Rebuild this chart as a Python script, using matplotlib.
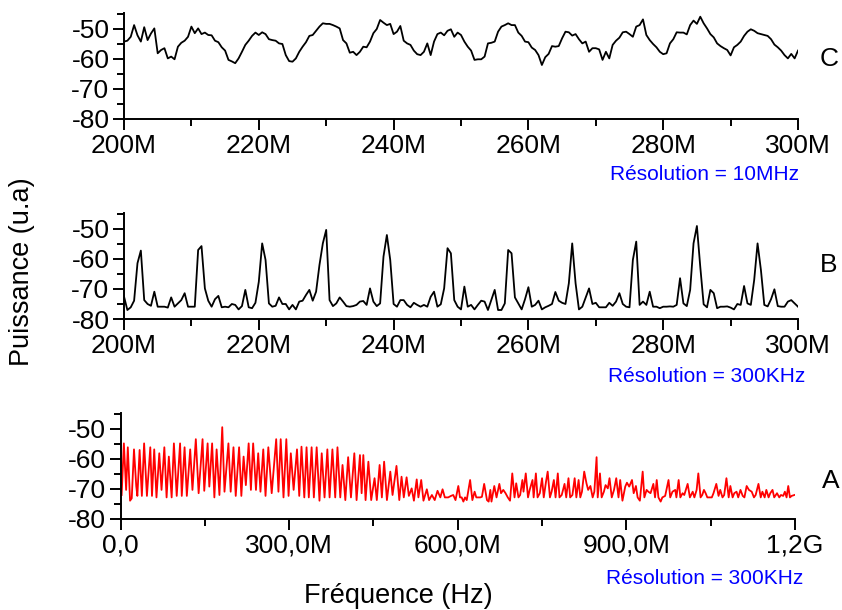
import numpy as np
import matplotlib
matplotlib.use("Agg")
import matplotlib.pyplot as plt
from matplotlib.ticker import MultipleLocator

plt.rcParams['font.family'] = ['Liberation Sans', 'DejaVu Sans']

# ---- donnees (frequence en MHz, puissance en u.a) ----
f_start_cb, f_stop_cb = 200, 300

# C : resolution 10MHz, pas de 0.5 MHz
level_c = [
    -54.2, -53.9, -52.6, -48.7, -52.1, -54.2, -49.4, -53.7, -51.5, -49.8,
    -58.1, -57.0, -56.4, -59.8, -59.2, -60.1, -55.9, -54.6, -53.9, -52.6,
    -49.2, -51.4, -49.8, -51.7, -51.2, -52.0, -52.1, -53.9, -54.4, -56.1,
    -57.2, -60.3, -60.8, -61.4, -59.8, -57.6, -55.3, -53.9, -52.3, -51.2,
    -52.0, -51.1, -51.7, -53.4, -53.7, -53.9, -54.8, -55.0, -58.7, -60.7,
    -60.9, -59.8, -57.6, -55.9, -54.4, -52.3, -52.0, -50.6, -49.2, -48.1,
    -48.3, -48.3, -48.7, -49.2, -49.8, -53.7, -54.8, -57.9, -57.6, -58.7,
    -57.6, -55.9, -56.1, -54.2, -51.4, -50.0, -47.0, -47.9, -48.7, -48.3,
    -51.7, -50.9, -49.0, -53.9, -54.8, -55.3, -57.2, -58.4, -58.7, -57.6,
    -54.8, -58.7, -54.2, -51.7, -51.2, -52.1, -50.6, -50.1, -52.6, -51.2,
    -52.0,
    -54.2, -55.9, -57.2, -60.3, -60.1, -60.1, -59.2, -54.8, -54.6, -54.2,
    -50.9, -49.2, -48.7, -48.1, -48.7, -48.7, -51.2, -52.3, -54.2, -54.4,
    -56.2, -57.0, -58.7, -62.0, -59.4, -58.3, -55.7, -55.9, -55.7, -53.1,
    -50.9, -51.1, -52.2, -51.7, -53.4, -54.8, -54.2, -57.6, -56.4, -56.4,
    -56.8, -60.3, -57.6, -59.8, -55.3, -53.9, -52.9, -51.1, -50.9, -51.7,
    -52.6, -49.2, -48.7, -46.8, -52.0, -53.7, -55.0, -56.1, -57.6, -58.4,
    -58.1, -54.8, -53.4, -51.1, -51.2, -51.2, -51.8, -48.7, -47.2, -48.3,
    -45.9, -48.1, -49.8, -51.7, -52.8, -54.8, -55.7, -56.4, -57.0, -58.8,
    -56.1, -55.3, -54.2, -52.3, -50.9, -50.1, -50.6, -51.4, -51.7, -52.0,
    -52.3, -53.4, -55.2, -56.1, -57.2, -58.7, -59.8, -58.3, -59.8, -57.2,
]

# B : resolution 300KHz, pas de 0.5 MHz
level_b = [
    -72.5, -77.0, -76.1, -73.9, -61.4, -57.2, -73.7, -75.0, -75.6, -70.9,
    -75.9, -75.9, -75.9, -76.2, -72.8, -75.9, -74.8, -73.7, -71.4, -75.9,
    -75.9, -75.9, -57.0, -55.7, -69.8, -73.9, -75.9, -73.4, -72.3, -76.1,
    -75.9, -76.1, -75.0, -75.3, -76.8, -75.7, -70.3, -76.1, -76.4, -74.6,
    -67.6, -54.8, -60.3, -74.8, -75.9, -75.6, -72.8, -75.0, -75.0, -76.8,
    -75.3, -76.8, -74.2, -73.9, -72.0, -70.3, -73.9, -70.9, -62.0, -54.8,
    -50.3, -73.7, -75.7, -74.8, -72.8, -74.2, -75.7, -75.9, -75.7, -75.3,
    -74.2, -74.0, -75.3, -69.8, -74.2, -75.7, -74.8, -59.2, -52.0, -60.3,
    -75.0, -75.9, -73.7, -73.7, -75.3, -76.1, -74.6, -75.3, -75.9, -75.3,
    -75.9, -72.6, -70.9, -75.9, -75.1, -69.8, -56.4, -58.1, -73.7, -75.9,
    -76.8,
    -69.2, -75.9, -75.3, -76.8, -75.3, -73.9, -74.2, -77.0, -73.7, -70.3,
    -77.0, -77.0, -74.8, -57.0, -58.1, -72.8, -74.8, -76.8, -73.4, -69.4,
    -75.9, -75.3, -73.9, -76.8, -76.1, -75.6, -75.0, -71.0, -73.9, -74.6,
    -75.0, -68.1, -54.8, -68.1, -76.8, -75.9, -72.8, -69.8, -75.0, -74.6,
    -76.1, -76.1, -76.1, -74.6, -75.6, -74.2, -71.4, -75.0, -75.9, -76.1,
    -60.3, -54.2, -75.3, -74.2, -75.3, -70.9, -75.9, -75.9, -76.4, -75.9,
    -75.9, -75.8, -75.9, -75.3, -66.4, -74.8, -75.7, -70.3, -54.8, -49.0,
    -62.6, -75.1, -76.1, -70.3, -71.4, -76.4, -75.9, -75.9, -75.8, -76.2,
    -76.8, -75.0, -75.3, -69.0, -74.8, -75.3, -67.0, -54.8, -63.7, -75.3,
    -75.8, -73.4, -70.1, -75.7, -75.9, -75.9, -74.2, -73.7, -74.8, -75.9,
]

# A : 0 - 1.2 GHz, sommets de la courbe
freq_a = [
    2, 6, 10, 13, 17, 20, 24, 28, 30, 34, 38, 42, 47, 53, 56, 60, 64, 69, 73, 78,
    82, 86, 91, 95, 100, 106, 109, 114, 118, 124, 128, 134, 139, 146, 149, 155, 158, 163, 167, 171,
    176, 181, 185, 192, 196, 201, 205, 211, 215, 219, 223, 228, 232, 236, 241, 245, 249, 254, 258, 263,
    269, 277, 281, 285, 290, 295, 299, 303, 308, 314, 318, 322, 327, 331, 335, 340, 344, 349, 354, 358,
    363, 368, 372, 377, 382, 386, 391, 395, 400, 405, 410, 416, 420, 426, 429, 432, 436, 441, 446, 452,
    456, 461, 465, 469, 474, 480, 484, 491, 496, 500, 504, 509, 513, 518, 522, 527, 530, 535, 539, 545,
    549, 554, 559, 564, 569, 573, 577, 583, 588, 592, 596, 601, 604,
    607, 610, 613, 616, 622, 626, 630, 633, 640, 643, 647, 652, 655, 658, 660, 665, 669, 674, 677, 681,
    685, 689, 693, 697, 701, 704, 708, 711, 715, 717, 721, 725, 728, 733, 735, 739, 742, 746, 750, 753,
    757, 760, 764, 767, 771, 774, 778, 781, 785, 790, 793, 797, 800, 804, 808, 811, 815, 818, 821, 825,
    829, 832, 836, 840, 843, 847, 849, 853, 856, 860, 863, 867, 870, 874, 878, 882, 886, 889, 893, 898,
    901, 905, 910, 913, 917, 920, 924, 929, 932, 936, 939, 943, 948, 951, 954, 957, 961, 964, 969, 975,
    978, 982, 987, 989, 993, 996, 1000, 1003, 1009, 1013, 1018, 1021, 1025, 1028, 1032, 1035, 1038, 1041, 1044, 1048,
    1052, 1055, 1060, 1064, 1067, 1071, 1074, 1078, 1082, 1085, 1089, 1092, 1096, 1099, 1103, 1107, 1110, 1114, 1118, 1123,
    1127, 1130, 1135, 1139, 1142, 1146, 1149, 1153, 1156, 1160, 1163, 1168, 1172, 1175, 1179, 1182, 1185, 1188, 1191, 1194,
    1199,
]
level_a = [
    -72.0, -54.8, -70.3, -56.1, -73.9, -73.1, -56.8, -69.0, -72.3, -57.0,
    -72.3, -54.8, -72.3, -56.1, -72.3, -56.8, -72.8, -58.1, -70.3, -56.1,
    -72.8, -59.2, -72.8, -54.8, -72.3, -54.8, -72.3, -56.1, -72.3, -56.8,
    -70.3, -53.4, -71.4, -53.4, -70.6, -54.8, -69.2, -54.8, -72.8, -56.8,
    -72.0, -49.4, -70.9, -54.8, -70.9, -56.1, -72.3, -56.1, -72.3, -59.2,
    -68.7, -54.8, -70.3, -54.8, -70.3, -58.1, -70.9, -56.8, -72.3, -56.1,
    -71.4, -53.4, -70.9, -53.4, -72.8, -53.4, -72.3, -58.1, -70.3, -56.8,
    -72.3, -55.9, -72.8, -56.1, -72.8, -56.1, -72.8, -56.1, -73.9, -58.1,
    -72.8, -56.8, -72.8, -56.8, -72.8, -56.1, -72.8, -62.0, -73.7, -59.4,
    -72.8, -58.1, -73.7, -58.7, -71.4, -58.7, -73.7, -60.9, -73.7, -66.4,
    -73.7, -62.0, -72.8, -60.9, -73.7, -64.2, -72.0, -62.3, -73.7, -65.9,
    -72.8, -66.1, -72.3, -69.8, -73.9, -66.8, -72.8, -67.0, -73.9, -70.1,
    -73.7, -72.0, -73.7, -70.6, -72.8, -70.1, -72.8, -72.8, -72.3, -72.0,
    -73.7, -69.0, -72.8,
    -72.8, -74.2, -72.8, -73.7, -67.0, -73.7, -70.9, -72.8, -72.8, -72.6,
    -68.3, -73.7, -74.2, -70.3, -74.2, -69.0, -72.8, -68.3, -71.4, -70.3,
    -71.4, -72.8, -73.9, -64.8, -72.8, -68.1, -72.8, -72.0, -67.0, -70.9,
    -64.8, -72.8, -70.3, -67.0, -72.8, -64.8, -72.8, -71.4, -66.4, -72.8,
    -67.6, -64.2, -72.8, -70.9, -67.0, -72.8, -64.8, -72.8, -72.0, -68.3,
    -72.8, -66.4, -72.8, -72.0, -66.4, -72.8, -67.0, -72.8, -70.9, -64.2,
    -68.1, -70.3, -69.0, -72.8, -70.9, -59.4, -72.8, -64.8, -72.8, -70.9,
    -68.7, -69.8, -66.4, -72.8, -70.3, -66.4, -72.8, -67.0, -73.9, -69.2,
    -67.9, -69.2, -67.0, -71.4, -69.0, -72.8, -73.9, -64.2, -72.8, -70.3,
    -70.9, -71.4, -68.3, -72.8, -67.0, -72.8, -74.2, -72.8, -72.3, -67.0,
    -72.8, -70.9, -70.3, -72.8, -67.0, -72.8, -71.4, -72.0, -68.3, -72.8,
    -70.9, -72.8, -70.3, -64.8, -72.8, -72.0, -70.3, -71.4, -72.8, -72.8,
    -72.8, -71.4, -68.3, -72.3, -70.3, -72.8, -72.0, -66.4, -72.8, -69.0,
    -72.8, -71.4, -70.9, -72.8, -70.3, -72.3, -72.8, -69.0, -70.3, -70.9,
    -72.8, -72.0, -68.3, -72.8, -70.9, -72.8, -70.3, -72.8, -71.4, -70.3,
    -72.8, -71.4, -72.8, -72.0, -72.3, -70.9, -72.8, -69.0, -72.8, -72.3,
    -72.0,
]

ticks_cb = [200, 220, 240, 260, 280, 300]
ticklabels_cb = ['200M', '220M', '240M', '260M', '280M', '300M']
ticks_a = [0, 300, 600, 900, 1200]
ticklabels_a = ['0,0', '300,0M', '600,0M', '900,0M', '1,2G']
yticks = [-80, -70, -60, -50]
yticklabels = ['-80', '-70', '-60', '-50']

freq_cb = np.linspace(f_start_cb, f_stop_cb, len(level_c))

W, H = 842, 610
fig = plt.figure(figsize=(W / 100, H / 100), dpi=100)


def rect(left, top, right, bottom):
    # rectangle en pixels -> fraction de la figure
    return [left / W, 1 - bottom / H, (right - left) / W, (bottom - top) / H]


def style(ax, xlim, xticks, xlabels, xminor):
    ax.set_xlim(*xlim)
    ax.set_ylim(-80, -44.67)
    ax.set_xticks(xticks)
    ax.set_xticklabels(xlabels)
    ax.xaxis.set_minor_locator(MultipleLocator(xminor))
    ax.set_yticks(yticks)
    ax.set_yticklabels(yticklabels)
    ax.yaxis.set_minor_locator(MultipleLocator(5))
    ax.spines['top'].set_visible(False)
    ax.spines['right'].set_visible(False)
    for s in ('left', 'bottom'):
        ax.spines[s].set_linewidth(1.4)
    ax.tick_params(which='major', direction='out', length=8, width=1.4, labelsize=19, pad=2.5)
    ax.tick_params(which='minor', direction='out', length=5, width=1.4)
    ax.patch.set_visible(False)


ax_c = fig.add_axes(rect(124, 13, 798, 119))
ax_c.plot(freq_cb, level_c, color='black', lw=1.3)
style(ax_c, (200, 300), ticks_cb, ticklabels_cb, 10)

ax_b = fig.add_axes(rect(124, 213, 798, 319))
ax_b.plot(freq_cb, level_b, color='black', lw=1.3)
style(ax_b, (200, 300), ticks_cb, ticklabels_cb, 10)

ax_a = fig.add_axes(rect(120.5, 413, 795, 519))
ax_a.plot(freq_a, level_a, color='red', lw=1.3)
style(ax_a, (0, 1200), ticks_a, ticklabels_a, 150)

# textes
fig.text(22 / W, 1 - 272 / H, 'Puissance (u.a)', rotation=90, ha='center', va='center', fontsize=19.5)
fig.text(398 / W, 1 - 596 / H, 'Fréquence (Hz)', ha='center', va='center', fontsize=19.5)

fig.text(704 / W, 1 - 174 / H, 'Résolution = 10MHz', color='blue', ha='center', va='center', fontsize=15)
fig.text(707 / W, 1 - 377 / H, 'Résolution = 300KHz', color='blue', ha='center', va='center', fontsize=15)
fig.text(705 / W, 1 - 578 / H, 'Résolution = 300KHz', color='blue', ha='center', va='center', fontsize=15)

fig.text(829 / W, 1 - 59 / H, 'C', ha='center', va='center', fontsize=19)
fig.text(829 / W, 1 - 265 / H, 'B', ha='center', va='center', fontsize=19)
fig.text(831 / W, 1 - 481 / H, 'A', ha='center', va='center', fontsize=19)

fig.savefig('out.png', dpi=100)
